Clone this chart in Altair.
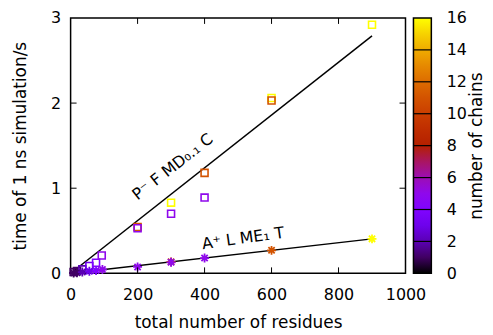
import altair as alt
import pandas as pd

# ---- data ----
# series "P- F MD0.1 C" (open squares)
sq_res = [9, 19, 35, 56, 76, 93, 200, 200, 300, 300, 400, 400, 600, 600, 900]
sq_time = [0.015, 0.027, 0.047, 0.086, 0.125, 0.21, 0.545, 0.53, 0.83, 0.70, 1.18, 0.89, 2.06, 2.03, 2.92]
sq_chains = [1, 1, 2, 3, 4, 5, 11, 5, 16, 5, 11, 5, 16, 11, 16]

# series "A+ L ME1 T" (asterisks)
ast_res = [9, 19, 35, 56, 76, 95, 200, 300, 300, 400, 600, 900]
ast_time = [0.004, 0.008, 0.015, 0.024, 0.033, 0.045, 0.075, 0.135, 0.13, 0.18, 0.27, 0.405]
ast_chains = [1, 1, 2, 3, 4, 5, 5, 11, 5, 5, 11, 16]

# linear fits
fit_res = [9, 900]
fit_sq = [0.028, 2.79]
fit_ast = [0.004, 0.405]

# labels
lab_sq = "P⁻ F MD₀.₁ C"
lab_sq_pos = [305, 1.25]
lab_ast = "A⁺ L ME₁ T"
lab_ast_pos = [515, 0.41]

XTICKS = [0, 200, 400, 600, 800, 1000]
YTICKS = [0, 1, 2, 3]
CBTICKS = [0, 2, 4, 6, 8, 10, 12, 14, 16]
CB_SEPS = [2, 4, 6, 8, 10, 12, 14]

# gnuplot default palette (rgbformulae 7,5,15), stops at chains 0..16
CB_DOMAIN = [0, 1, 2, 3, 4, 5, 6, 7, 8, 9, 10, 11, 12, 13, 14, 15, 16]
PALETTE = ["#000000", "#400062", "#5a00b4", "#6e02ec", "#8004ff", "#8f08ec",
           "#9c0db4", "#a91562", "#b42000", "#bf2d00", "#ca3e00", "#d35300",
           "#dd6c00", "#e68900", "#efab00", "#f7d200", "#ffff00"]

W, H = 337, 257
CB_GAP, CB_W = 8, 18
FONT = "DejaVu Sans"
ASTERISK = "M-1,0L1,0M0,-1L0,1M-0.7,-0.7L0.7,0.7M-0.7,0.7L0.7,-0.7"

df_sq = pd.DataFrame({"x": sq_res, "y": sq_time, "chains": sq_chains})
df_ast = pd.DataFrame({"x": ast_res, "y": ast_time, "chains": ast_chains})
df_fit_sq = pd.DataFrame({"x": fit_res, "y": fit_sq})
df_fit_ast = pd.DataFrame({"x": fit_res, "y": fit_ast})

x_enc = alt.X("x:Q", scale=alt.Scale(domain=[0, 1000], nice=False),
              axis=alt.Axis(values=XTICKS, format="d", title="total number of residues",
                            labelPadding=13, titlePadding=12))
y_enc = alt.Y("y:Q", scale=alt.Scale(domain=[0, 3], nice=False),
              axis=alt.Axis(values=YTICKS, format="d", title="time of 1 ns simulation/s",
                            labelPadding=10, titlePadding=21, orient="left"))
color_scale = alt.Scale(domain=CB_DOMAIN, range=PALETTE)

line_sq = alt.Chart(df_fit_sq).mark_line(color="black", strokeWidth=1.5).encode(x=x_enc, y=y_enc)
line_ast = alt.Chart(df_fit_ast).mark_line(color="black", strokeWidth=1.5).encode(x=x_enc, y=y_enc)

squares = alt.Chart(df_sq).mark_point(shape="square", filled=False, size=49,
                                       strokeWidth=1.6, opacity=1).encode(
    x=x_enc, y=y_enc, color=alt.Color("chains:Q", scale=color_scale, legend=None))
asters = alt.Chart(df_ast).mark_point(shape=ASTERISK, filled=False, size=81,
                                       strokeWidth=1.8, opacity=1).encode(
    x=x_enc, y=y_enc, color=alt.Color("chains:Q", scale=color_scale, legend=None))

txt_sq = alt.Chart(pd.DataFrame({"x": [lab_sq_pos[0]], "y": [lab_sq_pos[1]], "t": [lab_sq]})).mark_text(
    font=FONT, fontSize=16, angle=322, align="center", baseline="middle", color="black"
).encode(x=x_enc, y=y_enc, text="t:N")
txt_ast = alt.Chart(pd.DataFrame({"x": [lab_ast_pos[0]], "y": [lab_ast_pos[1]], "t": [lab_ast]})).mark_text(
    font=FONT, fontSize=16, angle=352, align="center", baseline="middle", color="black"
).encode(x=x_enc, y=y_enc, text="t:N")

# inward ticks (gnuplot style, mirrored)
df_xt = pd.DataFrame({"x": XTICKS[1:-1]})
df_yt = pd.DataFrame({"y": YTICKS[1:-1]})
xt_bot = alt.Chart(df_xt).mark_rule(color="black", strokeWidth=1).encode(
    x=x_enc, y=alt.value(H), y2=alt.value(H - 6))
xt_top = alt.Chart(df_xt).mark_rule(color="black", strokeWidth=1).encode(
    x=x_enc, y=alt.value(0), y2=alt.value(6))
yt_left = alt.Chart(df_yt).mark_rule(color="black", strokeWidth=1).encode(
    y=y_enc, x=alt.value(0), x2=alt.value(6))
yt_right = alt.Chart(df_yt).mark_rule(color="black", strokeWidth=1).encode(
    y=y_enc, x=alt.value(W), x2=alt.value(W - 6))

main = alt.layer(line_sq, line_ast, squares, asters, txt_sq, txt_ast,
                 xt_bot, xt_top, yt_left, yt_right)

# colour bar (own y scale, drawn right of the plot)
cb_y = alt.Y("lo:Q", scale=alt.Scale(domain=[0, 16], nice=False),
             axis=alt.Axis(orient="right", offset=CB_GAP + CB_W, values=CBTICKS,
                           title="number of chains", titleAngle=270, titleBaseline="top",
                           labelPadding=15, titlePadding=2))
grad = alt.LinearGradient(
    gradient="linear",
    stops=[alt.GradientStop(color=c, offset=i / (len(PALETTE) - 1)) for i, c in enumerate(PALETTE)],
    x1=0, x2=0, y1=1, y2=0)
bar = alt.Chart(pd.DataFrame({"lo": [0], "hi": [16]})).mark_rect(
    fill=grad, stroke="black", strokeWidth=1.5).encode(
    y=cb_y, y2="hi:Q", x=alt.value(W + CB_GAP), x2=alt.value(W + CB_GAP + CB_W))
seps = alt.Chart(pd.DataFrame({"lo": CB_SEPS})).mark_rule(color="black", strokeWidth=1.2).encode(
    y=cb_y, x=alt.value(W + CB_GAP), x2=alt.value(W + CB_GAP + CB_W))
cbar = alt.layer(bar, seps)

chart = alt.layer(main, cbar).resolve_scale(y="independent").properties(
    width=W, height=H,
    padding={"left": 3, "top": 1, "right": 0, "bottom": 0}
).configure_view(stroke="black", strokeWidth=1.5).configure_axis(
    labelFont=FONT, titleFont=FONT, labelFontSize=16, titleFontSize=17,
    titleFontWeight="normal", labelColor="black", titleColor="black",
    domain=False, ticks=False, tickSize=0, grid=False, labelFlush=False
)

chart.save("out.html", embed_options={"renderer": "svg", "actions": False})
